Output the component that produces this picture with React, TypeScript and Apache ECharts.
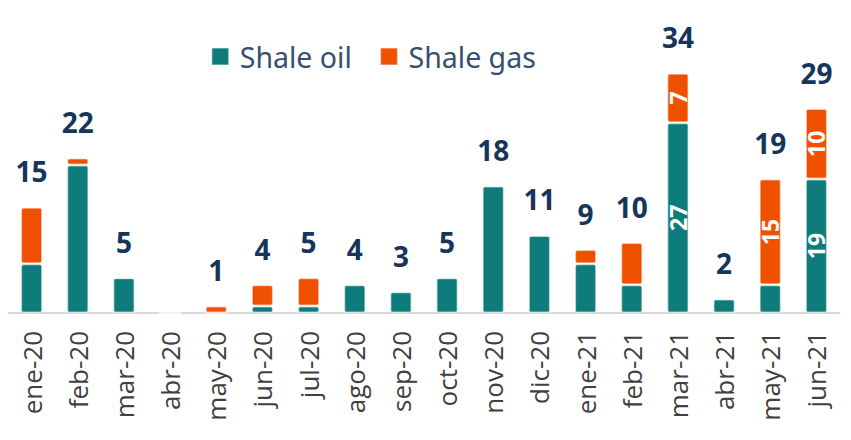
import React, { useEffect, useRef } from "react";
import * as echarts from "echarts";

const categories = [
  "ene-20", "feb-20", "mar-20", "abr-20", "may-20", "jun-20", "jul-20", "ago-20", "sep-20",
  "oct-20", "nov-20", "dic-20", "ene-21", "feb-21", "mar-21", "abr-21", "may-21", "jun-21",
];
const shaleOil = [7, 21, 5, 0, 0, 1, 1, 4, 3, 5, 18, 11, 7, 4, 27, 2, 4, 19];
const shaleGas = [8, 1, 0, 0, 1, 3, 4, 0, 0, 0, 0, 0, 2, 6, 7, 0, 15, 10];
// indices whose segment value is printed inside the bar
const oilLabelIdx = [14, 17];
const gasLabelIdx = [14, 16, 17];

const TEAL = "#0e7c7b";
const ORANGE = "#f05100";
const NAVY = "#15355a";

export default function App() {
  const ref = useRef<HTMLDivElement>(null);
  useEffect(() => {
    if (!ref.current) return;
    const chart = echarts.init(ref.current, undefined, { renderer: "svg" });
    const totals = categories.map((_, i) => {
      const t = shaleOil[i] + shaleGas[i];
      return t > 0 ? t : null;
    });
    const insideLabel = {
      show: true,
      position: "inside",
      rotate: 90,
      color: "#ffffff",
      fontSize: 23,
      fontWeight: "bold",
      fontFamily: "Open Sans",
    };
    const mk = (arr: number[], idx: number[]) =>
      arr.map((v, i) => ({
        value: v,
        label: idx.includes(i) ? insideLabel : { show: false },
      }));
    chart.setOption({
      animation: false,
      legend: {
        data: ["Shale oil", "Shale gas"],
        top: 37,
        left: 206,
        itemWidth: 17,
        itemHeight: 17,
        itemGap: 28,
        icon: "rect",
        itemStyle: { borderColor: "rgba(255,255,255,0.45)", borderWidth: 1.5 },
        textStyle: {
          color: "#34506e",
          fontSize: 28.5,
          fontFamily: "Noto Sans",
          padding: [0, 0, 0, 6],
        },
      },
      grid: { left: 8.5, right: 11.5, top: 31, bottom: 127, containLabel: false },
      xAxis: {
        type: "category",
        data: categories,
        axisTick: { show: false },
        axisLine: { lineStyle: { color: "#d9d9d9", width: 2 } },
        axisLabel: {
          rotate: 90,
          color: "#404040",
          fontSize: 26,
          fontFamily: "Open Sans",
          margin: 18,
          interval: 0,
        },
      },
      yAxis: { type: "value", min: 0, max: 40, show: false, splitLine: { show: false } },
      series: [
        {
          name: "Shale oil",
          type: "bar",
          stack: "s",
          barWidth: 22,
          data: mk(shaleOil, oilLabelIdx),
          itemStyle: { color: TEAL, borderColor: "rgba(255,255,255,0.55)", borderWidth: 1.5, borderRadius: 2 },
        },
        {
          name: "Shale gas",
          type: "bar",
          stack: "s",
          barWidth: 22,
          data: mk(shaleGas, gasLabelIdx),
          itemStyle: { color: ORANGE, borderColor: "rgba(255,255,255,0.55)", borderWidth: 1.5, borderRadius: 2 },
        },
        {
          name: "Total",
          type: "bar",
          barWidth: 22,
          barGap: "-100%",
          data: totals,
          silent: true,
          z: 1,
          itemStyle: { color: "rgba(0,0,0,0)" },
          label: {
            show: true,
            position: "top",
            distance: 22,
            color: NAVY,
            fontSize: 28,
            fontWeight: "bold",
            fontFamily: "Open Sans",
          },
        },
      ],
    });
    return () => chart.dispose();
  }, []);
  return (
    <div
      ref={ref}
      style={{ position: "absolute", left: 0, top: 0, width: 851, height: 440 }}
    />
  );
}
